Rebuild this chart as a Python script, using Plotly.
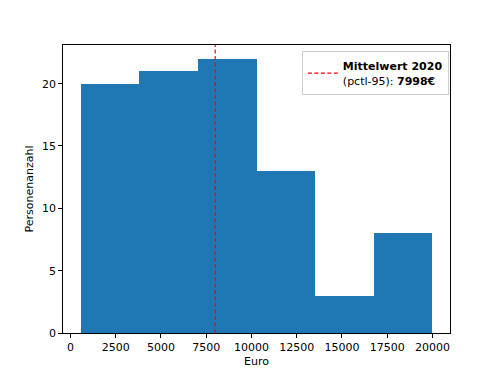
import plotly.graph_objects as go

# Data
bin_edges = [560, 3800, 7040, 10280, 13520, 16760, 20000]
counts = [20, 21, 22, 13, 3, 8]
mean_value = 7998
legend_title = "Mittelwert 2020"
legend_sub = "(pctl-95): "
x_label = "Euro"
y_label = "Personenanzahl"
x_ticks = [0, 2500, 5000, 7500, 10000, 12500, 15000, 17500, 20000]
y_ticks = [0, 5, 10, 15, 20]

centers = [(a + b) / 2 for a, b in zip(bin_edges[:-1], bin_edges[1:])]
widths = [b - a for a, b in zip(bin_edges[:-1], bin_edges[1:])]

ymax = max(counts) * 1.05
span = bin_edges[-1] - bin_edges[0]
xmin = bin_edges[0] - 0.05 * span
xmax = bin_edges[-1] + 0.05 * span

fig = go.Figure()
fig.add_trace(go.Bar(
    x=centers, y=counts, width=widths,
    marker=dict(color="#1f77b4", line=dict(width=0)),
    showlegend=False, hoverinfo="skip",
))
fig.add_trace(go.Scatter(
    x=[mean_value, mean_value], y=[0, ymax], mode="lines",
    line=dict(color="red", dash="4px,2.5px", width=1.2),
    name=f"<b>{legend_title}</b><br>{legend_sub}<b>{mean_value}€</b>",
))

axis_common = dict(
    showline=True, linecolor="black", linewidth=0.8, mirror=True,
    ticks="outside", ticklen=4, tickwidth=0.8, tickcolor="black",
    showgrid=False, zeroline=False, automargin=False,
    tickfont=dict(family="DejaVu Sans", size=11, color="black"),
)

fig.update_layout(
    width=500, height=375,
    margin=dict(l=55, r=58, t=37, b=50),
    plot_bgcolor="white", paper_bgcolor="white",
    bargap=0,
    font=dict(family="DejaVu Sans", size=11, color="black"),
    xaxis=dict(range=[xmin, xmax], tickvals=x_ticks, ticktext=[str(v) for v in x_ticks],
               title=dict(text=x_label, standoff=4, font=dict(size=11)), **axis_common),
    yaxis=dict(range=[0, ymax], tickvals=y_ticks, ticktext=[str(v) for v in y_ticks],
               title=dict(text=y_label, standoff=6, font=dict(size=11)), **axis_common),
    legend=dict(x=0.997, y=0.978, xanchor="right", yanchor="top",
                bordercolor="#cccccc", borderwidth=1, bgcolor="rgba(255,255,255,0.8)",
                font=dict(family="DejaVu Sans", size=11, color="black")),
)

fig.write_html("out.html")
